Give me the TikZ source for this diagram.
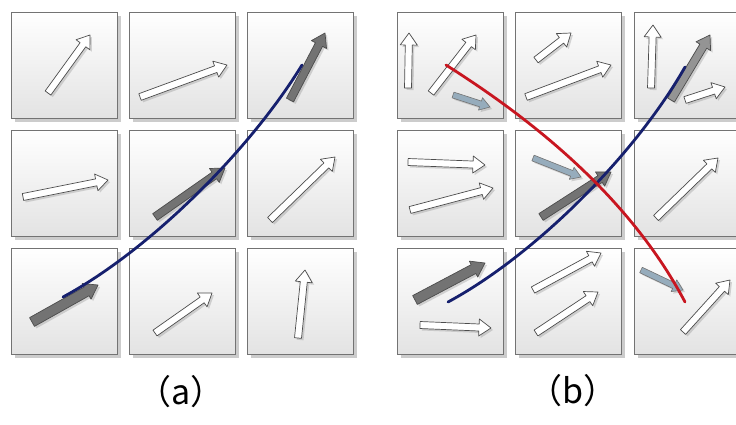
\documentclass[tikz,border=0pt]{standalone}
\usepackage{fontspec}
\newfontfamily\cjk{Noto Sans CJK SC}
\usepackage{tikz}
\usetikzlibrary{calc, shadows}
\definecolor{curveBlue}{RGB}{22, 32, 110}
\definecolor{curveRed}{RGB}{200, 22, 32}
\definecolor{paleSteel}{RGB}{150, 172, 188}

% block arrow: [style]{tail}{tip}{half shaft}{half head}{head length}
\newcommand{\blockarrow}[6][]{%
  \coordinate (bt) at #2;
  \coordinate (bh) at #3;
  \coordinate (bp) at ($(bh)!#6!(bt)$);
  \draw[#1] ($(bt)!#4!90:(bh)$) -- ($(bp)!#4!90:(bh)$) -- ($(bp)!#5!90:(bh)$)
    -- (bh) -- ($(bp)!#5!-90:(bh)$) -- ($(bp)!#4!-90:(bh)$)
    -- ($(bt)!#4!-90:(bh)$) -- cycle;
}

\begin{document}
\begin{tikzpicture}[
    x=1pt, y=-1pt,
    cell/.style={rectangle, draw=black!55, line width=0.9pt, minimum size=106pt,
                 top color=white, bottom color=black!11,
                 drop shadow={opacity=0.4, shadow xshift=3.5pt, shadow yshift=-3.5pt}},
    hollow/.style={draw=black!70, fill=white, line width=0.7pt, line join=round,
                   drop shadow={opacity=0.3, shadow xshift=2pt, shadow yshift=-2pt}},
    solid/.style={draw=black!70, fill=black!55, line width=0.7pt, line join=round,
                  drop shadow={opacity=0.3, shadow xshift=2pt, shadow yshift=-2pt}},
    pale/.style={draw=black!55, fill=paleSteel, line width=0.6pt, line join=round,
                 drop shadow={opacity=0.3, shadow xshift=2pt, shadow yshift=-2pt}},
    path/.style={line width=2.8pt, line cap=round},
    caption/.style={font=\cjk\fontsize{34}{40}\selectfont},
  ]
    \useasboundingbox (0,0) rectangle (736,424);

    % Grids
    \foreach \r in {0,1,2}
      \foreach \c in {0,1,2} {
        \node[cell] (L\r\c) at ({64.5+118*\c},{65+118*\r}) {};
        \node[cell] (R\r\c) at ({450+118.5*\c},{65+118*\r}) {};
      }

    % Panel (a)
    \foreach \ax/\ay/\bx/\by in {48/93/90/35, 140/97/227/65, 23/197/108/180,
        270/220/335/157, 155/333/212/293, 298/338/305/270} {
      \blockarrow[hollow]{(\ax,\ay)}{(\bx,\by)}{3.5pt}{8.5pt}{12pt}
    }
    \blockarrow[solid]{(290,100)}{(325,33)}{4pt}{8.5pt}{13pt}
    \blockarrow[solid]{(155,217)}{(225,168)}{4pt}{8.5pt}{13pt}
    \blockarrow[solid]{(32,322)}{(98,285)}{5pt}{9pt}{13pt}

    \coordinate (aStart) at (63,297);
    \coordinate (aEnd) at (302,65);
    \draw[path, curveBlue] (aStart) .. controls (150,250) and (250,150) .. (aEnd);

    % Panel (b)
    \foreach \ax/\ay/\bx/\by in {408/88/409/33, 431/93/476/35, 536/60/571/33,
        526/97/611/65, 651/88/653/25, 685/100/725/87, 408/162/485/165,
        410/210/493/188, 656/218/718/158, 420/325/491/328, 533/290/601/253,
        536/333/598/292, 683/332/730/280} {
      \blockarrow[hollow]{(\ax,\ay)}{(\bx,\by)}{3.5pt}{8.5pt}{12pt}
    }
    \blockarrow[solid, fill=black!42]{(671,100)}{(710,35)}{4pt}{8.5pt}{13pt}
    \blockarrow[solid]{(541,217)}{(611,172)}{4pt}{8.5pt}{13pt}
    \blockarrow[solid]{(415,300)}{(485,263)}{5pt}{9pt}{13pt}
    \foreach \ax/\ay/\bx/\by in {453/95/490/107, 533/158/581/177, 641/270/683/290} {
      \blockarrow[pale]{(\ax,\ay)}{(\bx,\by)}{3pt}{6.5pt}{10pt}
    }

    \coordinate (bStart) at (448,302);
    \coordinate (bEnd) at (685,67);
    \draw[path, curveBlue] (bStart) .. controls (535,255) and (635,155) .. (bEnd);
    \coordinate (rStart) at (446,65);
    \coordinate (rEnd) at (685,302);
    \draw[path, curveRed] (rStart) .. controls (517,110) and (625,188) .. (rEnd);

    % Captions
    \node[caption] (capA) at (181,392) {（a）};
    \node[caption] (capB) at (573,391) {（b）};
\end{tikzpicture}
\end{document}
